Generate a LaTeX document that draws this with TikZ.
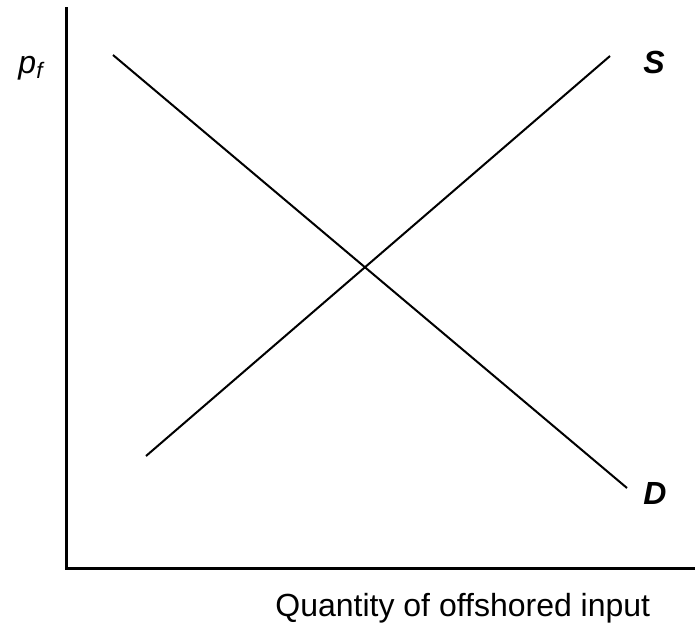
\documentclass[tikz,border=0pt]{standalone}
\usepackage{fontspec}
\setmainfont{Liberation Sans}
\usetikzlibrary{positioning}

\begin{document}
\begin{tikzpicture}[
  x=0.5pt, y=-0.5pt, font=\fontsize{16}{19}\selectfont,
  axis/.style={line width=1.5pt},
  curve/.style={line width=1pt},
  lbl/.style={inner sep=0pt}
]
  \useasboundingbox (0,0) rectangle (695,628);
  % axes
  \coordinate (top) at (66,7);
  \coordinate (origin) at (66,568);
  \coordinate (right) at (695,568);
  \draw[axis] (top) -- (origin) -- (right);
  % demand and supply
  \coordinate (d1) at (113,55);
  \coordinate (d2) at (627,488);
  \coordinate (s1) at (146,456);
  \coordinate (s2) at (610,56);
  \draw[curve] (d1) -- (d2);
  \draw[curve] (s1) -- (s2);
  % labels
  \node[lbl] (price) at (31,68) {\textit{p\textsubscript{f}}};
  \node[lbl] (slabel) at (654,62) {\textbf{\textit{S}}};
  \node[lbl] (dlabel) at (655,493) {\textbf{\textit{D}}};
  \node[lbl, anchor=base west] (qty) at (275,616) {Quantity of offshored input};
\end{tikzpicture}
\end{document}
